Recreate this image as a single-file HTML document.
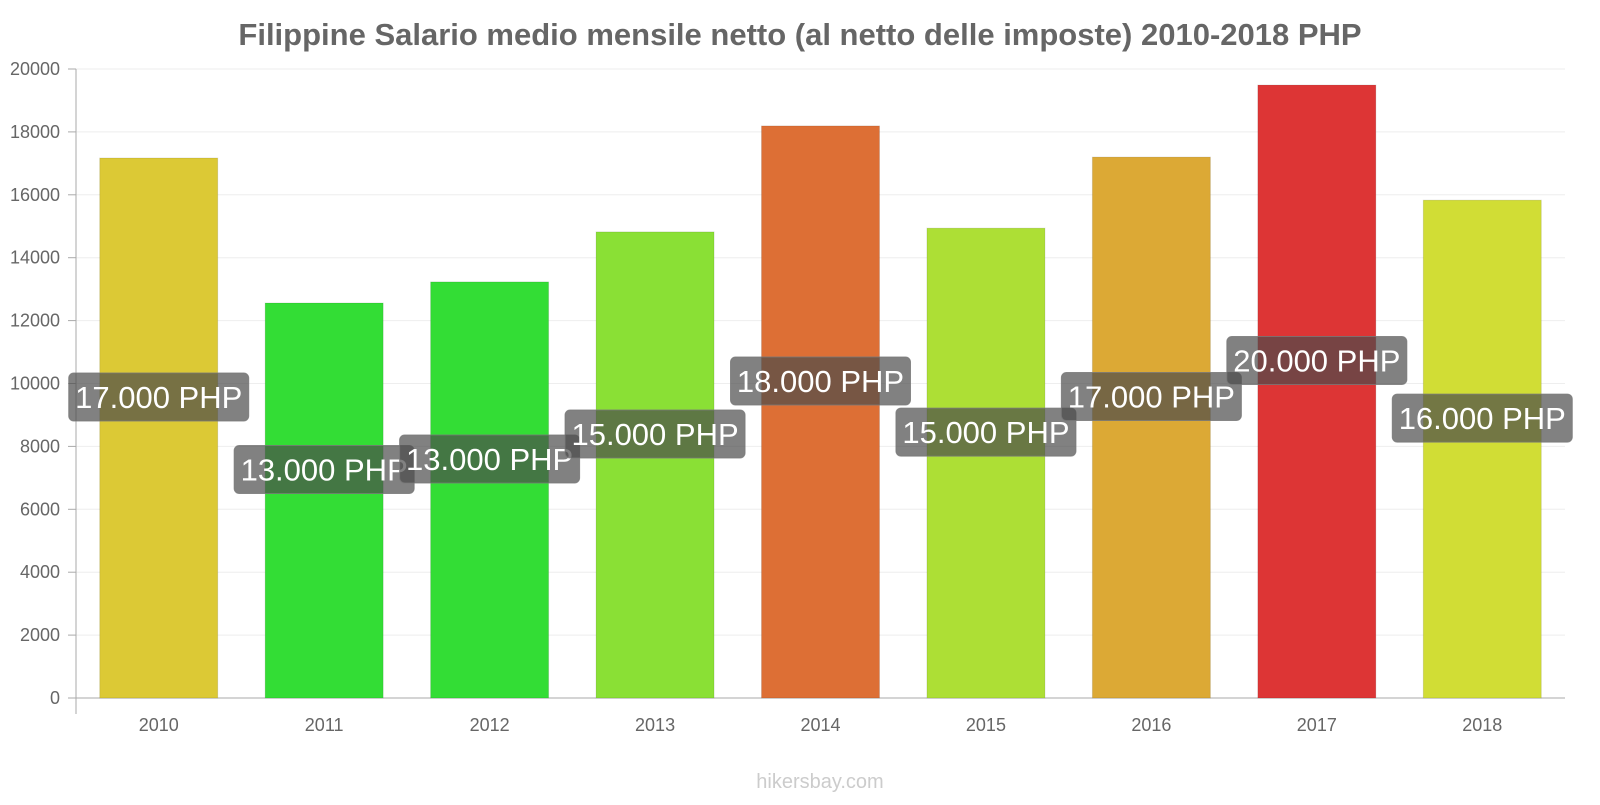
<!DOCTYPE html>
<html><head><meta charset="utf-8"><style>
body{margin:0;background:#fff;width:1600px;height:800px;overflow:hidden;font-family:"Liberation Sans",sans-serif}
</style></head><body>
<svg id="chart" width="1600" height="800" xmlns="http://www.w3.org/2000/svg">
<text x="800" y="45" text-anchor="middle" font-size="31" font-weight="bold" fill="#666">Filippine Salario medio mensile netto (al netto delle imposte) 2010-2018 PHP</text>
<g id="grid"></g><g id="bars"></g><g id="labels"></g>
<text x="820" y="788" text-anchor="middle" font-size="20" fill="#ccc">hikersbay.com</text>
</svg>
<script>
const categories=["2010","2011","2012","2013","2014","2015","2016","2017","2018"];
const values=[17170,12560,13230,14820,18190,14940,17200,19490,15830];
const valueLabels=["17.000 PHP","13.000 PHP","13.000 PHP","15.000 PHP","18.000 PHP","15.000 PHP","17.000 PHP","20.000 PHP","16.000 PHP"];
const colors=["#dcc935","#33dd35","#33dd35","#8ae035","#dd6f35","#addf35","#dca935","#dd3535","#d1dd35"];
const yTicks=[0,2000,4000,6000,8000,10000,12000,14000,16000,18000,20000];
const NS="http://www.w3.org/2000/svg";
const x0=76,x1=1565,yb=698,yt=69,ymax=20000;
const y=v=>yb-(v/ymax)*(yb-yt);
const bw=(x1-x0)/categories.length;
const xc=i=>x0+bw*(i+0.5);
function mk(t,a,p){const e=document.createElementNS(NS,t);for(const k in a)e.setAttribute(k,a[k]);p.appendChild(e);return e;}
const grid=document.getElementById('grid'),bars=document.getElementById('bars'),labels=document.getElementById('labels');
yTicks.forEach(v=>{
 const l=mk('line',{x1:x0,x2:x1,y1:y(v),y2:y(v),stroke:v===0?'#aaa':'#eee','stroke-width':1},grid);
 
 
 mk('line',{x1:x0-8,x2:x0,y1:y(v),y2:y(v),stroke:'#aaa'},grid);
 const t=mk('text',{x:x0-16,y:y(v)+6,'text-anchor':'end','font-size':18,fill:'#666'},grid);
 t.textContent=v;
 
 
});
const ax=mk('line',{x1:x0,x2:x0,y1:yt,y2:yb+16,stroke:'#aaa'},grid);


categories.forEach((c,i)=>{
 const cx=xc(i),top=y(values[i]);
 const r=mk('rect',{x:cx-59,y:top,width:118,height:yb-top,fill:colors[i],stroke:'rgba(0,0,0,0.1)'},bars);
 
 
 const t=mk('text',{x:cx,y:731,'text-anchor':'middle','font-size':18,fill:'#666'},grid);
 t.textContent=c;
 
 
 const ly=(top+yb)/2-31;
 const g=mk('g',{},labels);
 
 
 mk('rect',{x:cx-90,y:ly-24,width:180,height:48,rx:5,fill:'rgba(75,75,75,0.7)',stroke:'rgba(120,120,120,0.8)'},g);
 const lt=mk('text',{x:cx,y:ly+11,'text-anchor':'middle','font-size':31,fill:'#fff'},g);
 lt.textContent=valueLabels[i];
});
</script>
</body></html>
